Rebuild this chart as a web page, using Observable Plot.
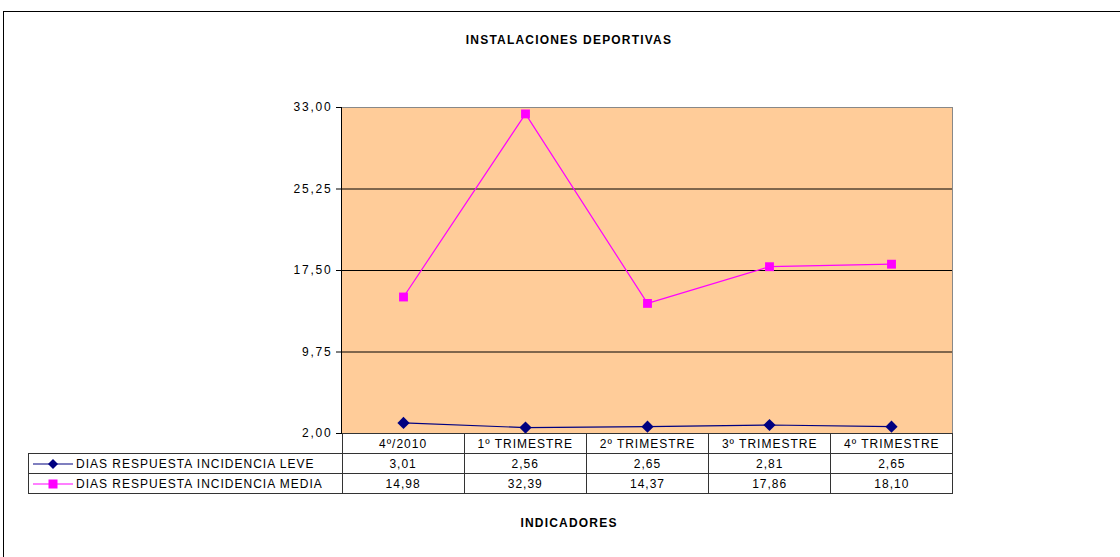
<!DOCTYPE html>
<html><head><meta charset="utf-8">
<script src="https://cdn.jsdelivr.net/npm/d3@7"></script>
<script src="https://cdn.jsdelivr.net/npm/@observablehq/plot@0.6"></script>
<style>
body{margin:0;background:#fff;font-family:"Liberation Sans",Arial,sans-serif;}
#wrap{position:relative;width:1120px;height:557px;overflow:hidden;}
#border{position:absolute;left:3px;top:11px;width:1140px;height:580px;border:1px solid #000;}
.lbl{position:absolute;left:0;width:1138px;text-align:center;font-weight:bold;font-size:12px;letter-spacing:1.2px;color:#000;}
#chart{position:absolute;left:0;top:0;}
#chart svg text{letter-spacing:1.8px;}
table{position:absolute;border-collapse:collapse;font-size:12px;letter-spacing:1px;color:#000;}
td{height:19px;padding:0;text-align:center;white-space:nowrap;}
td.c{border:1px solid #333;}
td.k{text-align:left;border:1px solid #333;}
</style></head>
<body>
<div id="wrap">
  <div id="border"></div>
  <div class="lbl" style="top:33px">INSTALACIONES DEPORTIVAS</div>
  <div id="chart"></div>
  <div id="tbl"></div>
  <div class="lbl" style="top:516px">INDICADORES</div>
</div>
<script>
const categories = ["4º/2010","1º TRIMESTRE","2º TRIMESTRE","3º TRIMESTRE","4º TRIMESTRE"];
const leve = [3.01, 2.56, 2.65, 2.81, 2.65];
const media = [14.98, 32.39, 14.37, 17.86, 18.10];
const seriesNames = ["DIAS RESPUESTA INCIDENCIA LEVE","DIAS RESPUESTA INCIDENCIA MEDIA"];
const yTicks = [2, 9.75, 17.5, 25.25, 33];
const colors = ["#000080", "#FF00FF"];
const symbols = ["diamond2", "square"];

const fmt = v => v.toFixed(2).replace(".", ",");
const data = [];
[leve, media].forEach((arr, s) => arr.forEach((v, i) => data.push({cat: categories[i], value: v, series: seriesNames[s]})));

const W = 1120, H = 557, mL = 341, mR = 168, mT = 107, mB = 124;
const chart = Plot.plot({
  width: W, height: H,
  marginLeft: mL, marginRight: mR, marginTop: mT, marginBottom: mB,
  style: {fontFamily: "'Liberation Sans', Arial, sans-serif", fontSize: "12px", background: "transparent"},
  x: {type: "point", domain: categories, padding: 0.5, axis: null},
  y: {domain: [2, 33], axis: null},
  marks: [
    Plot.frame({fill: "#FFCC99", stroke: "#888888"}),
    Plot.gridY(yTicks.slice(1, -1), {stroke: "#000", strokeOpacity: 1}),
    Plot.frame({anchor: "left", stroke: "#000"}),
    Plot.axisY(yTicks, {label: null, tickFormat: fmt, tickSize: 5, tickPadding: 4, fontSize: 12, stroke: "#000"}),
    Plot.line(data, {x: "cat", y: "value", z: "series", stroke: d => d.series === seriesNames[0] ? colors[0] : colors[1], strokeWidth: 1.2}),
    Plot.dot(data.filter(d => d.series === seriesNames[0]), {x: "cat", y: "value", symbol: symbols[0], fill: colors[0], r: 5.5}),
    Plot.dot(data.filter(d => d.series === seriesNames[1]), {x: "cat", y: "value", symbol: symbols[1], fill: colors[1], r: 5})
  ]
});
document.getElementById("chart").appendChild(chart);

// data table aligned to the x scale
const step = (W - mL - mR) / categories.length;
const table = document.createElement("table");
table.style.left = "28px";
table.style.top = (H - mB) + "px";
const keyW = mL - 28;
const r0 = table.insertRow();
const e = r0.insertCell(); e.style.width = keyW + "px";
categories.forEach(c => { const td = r0.insertCell(); td.className = "c"; td.style.width = (step - 1) + "px"; td.textContent = c; });
[leve, media].forEach((arr, s) => {
  const r = table.insertRow();
  const k = r.insertCell(); k.className = "k";
  k.innerHTML = `<svg width="40" height="12" style="vertical-align:middle;margin:0 3px 0 4px">
    <line x1="0" x2="40" y1="6" y2="6" stroke="${colors[s]}" stroke-width="1.2"/>
    ${s === 0 ? `<path d="M20,1L25,6L20,11L15,6Z" fill="${colors[0]}"/>` : `<rect x="15.5" y="1.5" width="9" height="9" fill="${colors[1]}"/>`}
  </svg><span style="vertical-align:middle">${seriesNames[s]}</span>`;
  arr.forEach(v => { const td = r.insertCell(); td.className = "c"; td.textContent = fmt(v); });
});
document.getElementById("tbl").appendChild(table);
</script>
</body></html>
